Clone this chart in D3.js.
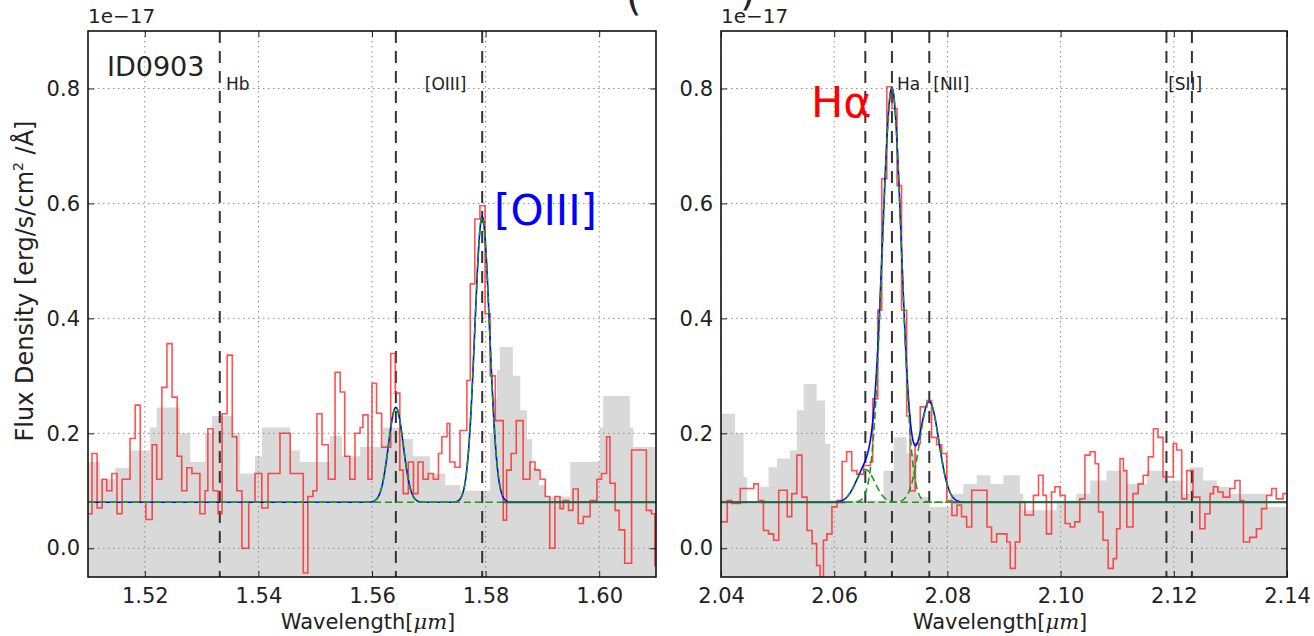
<!DOCTYPE html>
<html>
<head>
<meta charset="utf-8">
<script src="https://cdn.jsdelivr.net/npm/d3@7"></script>
<style>
  body { margin: 0; background: #fff; }
  svg text { font-family: "DejaVu Sans", sans-serif; fill: #222; }
</style>
</head>
<body>
<svg id="chart" width="1314" height="636"></svg>
<script>
"use strict";

// ---------- shared axis values ----------
const yDomain = [-0.05, 0.9];
const yTicks = [0.0, 0.2, 0.4, 0.6, 0.8];

// ---------- left panel: H band, Hb / [OIII] ----------
const xDomainL = [1.51, 1.61];
const xTicksL = [1.52, 1.54, 1.56, 1.58, 1.60];
// observed spectrum, bin left edges (um) and flux (1e-17)
const waveL = [1.5100,1.5107,1.5116,1.5125,1.5133,1.5142,1.5151,1.5160,1.5174,1.5183,1.5192,1.5202,1.5213,1.5221,1.5230,1.5239,1.5248,1.5257,1.5265,1.5274,1.5283,1.5297,1.5306,1.5311,1.5320,1.5329,1.5336,1.5345,1.5354,1.5362,1.5371,1.5383,1.5394,1.5406,1.5417,1.5438,1.5456,1.5479,1.5487,1.5496,1.5503,1.5512,1.5523,1.5535,1.5544,1.5552,1.5561,1.5570,1.5579,1.5584,1.5593,1.5600,1.5608,1.5617,1.5633,1.5641,1.5649,1.5655,1.5664,1.5673,1.5681,1.5690,1.5699,1.5708,1.5717,1.5723,1.5732,1.5737,1.5746,1.5755,1.5767,1.5773,1.5781,1.5790,1.5799,1.5808,1.5817,1.5831,1.5837,1.5845,1.5854,1.5866,1.5878,1.5887,1.5896,1.5905,1.5913,1.5922,1.5931,1.5937,1.5946,1.5954,1.5963,1.5972,1.5984,1.5996,1.6004,1.6013,1.6019,1.6028,1.6035,1.6045,1.6057,1.6083,1.6092,1.6098];
const fluxL = [0.06,0.165,0.07,0.12,0.10,0.13,0.06,0.12,0.191,0.249,0.08,0.05,0.18,0.12,0.28,0.356,0.263,0.16,0.10,0.14,0.13,0.06,0.10,0.208,0.10,0.06,0.234,0.336,0.194,0.10,0.0,0.08,0.13,0.07,0.13,0.20,0.13,-0.043,0.09,0.10,0.234,0.18,0.12,0.306,0.272,0.16,0.12,0.20,0.21,0.232,0.12,0.287,0.235,0.176,0.339,0.27,0.136,0.095,0.15,0.095,0.15,0.12,0.13,0.12,0.165,0.194,0.217,0.15,0.141,0.205,0.292,0.46,0.573,0.596,0.408,0.30,0.222,0.049,0.136,0.165,0.222,0.12,0.15,0.136,0.12,0.09,0.0,0.09,0.069,0.083,0.066,0.103,0.043,0.055,0.083,0.12,0.13,0.194,0.113,0.066,0.032,-0.026,0.171,0.066,0.06,-0.03];
// noise spectrum (grey fill)
const noiseWaveL = [1.5100,1.5121,1.5148,1.5174,1.5209,1.5221,1.5262,1.5280,1.5306,1.5318,1.5354,1.5368,1.5394,1.5406,1.5456,1.5473,1.5526,1.5547,1.5579,1.5619,1.5649,1.5672,1.5702,1.5729,1.5755,1.5808,1.5813,1.5820,1.5825,1.5848,1.5861,1.5873,1.5882,1.5894,1.5905,1.5949,1.6001,1.6007,1.6054,1.6060];
const noiseL = [0.15,0.12,0.14,0.17,0.21,0.245,0.20,0.15,0.20,0.23,0.20,0.13,0.16,0.21,0.17,0.15,0.195,0.16,0.176,0.21,0.19,0.16,0.13,0.11,0.10,0.20,0.26,0.31,0.35,0.30,0.24,0.19,0.14,0.11,0.09,0.15,0.21,0.265,0.21,0.176];
// line markers and fit
const lineWaveL = [1.5332, 1.5642, 1.5794];
const labelTextL = ['Hb', '[OIII]'];
const labelWaveL = [1.5343, 1.5693];
const fitCenterL = [1.5642, 1.5794];
const fitPeakL = [0.245, 0.577];
const fitSigmaL = 0.0013;
const contL = 0.08;
const compRangeL = [1.51, 1.583];   // dashed components drawn here
const contSolidL = [[1.583, 1.61]];

// ---------- right panel: K band, Ha / [NII] / [SII] ----------
const xDomainR = [2.04, 2.14];
const xTicksR = [2.04, 2.06, 2.08, 2.10, 2.12, 2.14];
const waveR = [2.0400,2.0411,2.0419,2.0434,2.0458,2.0466,2.0475,2.0484,2.0493,2.0502,2.0517,2.0525,2.0534,2.0543,2.0552,2.0561,2.0569,2.0575,2.0581,2.0587,2.0596,2.0605,2.0614,2.0622,2.0631,2.0640,2.0652,2.0664,2.0668,2.0677,2.0684,2.0693,2.0702,2.0711,2.0719,2.0728,2.0734,2.0743,2.0752,2.0764,2.0772,2.0781,2.0790,2.0799,2.0808,2.0817,2.0825,2.0834,2.0843,2.0870,2.0878,2.0887,2.0905,2.0911,2.0920,2.0928,2.0937,2.0952,2.0961,2.0969,2.0975,2.0984,2.0990,2.0999,2.1008,2.1017,2.1025,2.1034,2.1043,2.1052,2.1061,2.1067,2.1075,2.1084,2.1093,2.1099,2.1105,2.1111,2.1117,2.1128,2.1137,2.1146,2.1155,2.1164,2.1172,2.1181,2.1199,2.1205,2.1214,2.1223,2.1234,2.1246,2.1255,2.1264,2.1270,2.1278,2.1287,2.1299,2.1308,2.1317,2.1323,2.1334,2.1346,2.1355,2.1364,2.1373,2.1381,2.1393];
const fluxR = [0.046,0.083,0.078,0.104,0.112,0.083,0.031,0.025,0.014,0.101,0.055,0.095,0.162,0.089,0.031,0.008,-0.03,-0.06,0.014,0.025,0.072,0.083,0.151,0.168,0.135,0.129,0.144,0.15,0.26,0.414,0.643,0.803,0.765,0.631,0.414,0.23,0.10,0.182,0.246,0.257,0.193,0.18,0.165,0.083,0.057,0.075,0.055,0.037,0.101,0.037,0.011,0.025,0.011,-0.035,0.011,0.081,0.058,0.092,0.127,0.092,0.025,0.098,0.107,0.092,0.043,0.037,0.046,0.086,0.162,0.168,0.147,0.063,0.014,-0.035,-0.018,0.034,0.156,0.135,0.037,0.095,0.112,0.127,0.159,0.208,0.193,0.124,0.182,0.171,0.086,0.135,0.089,0.034,0.060,0.095,0.107,0.098,0.089,0.104,0.118,0.083,0.011,0.019,0.034,0.069,0.092,0.104,0.086,0.095];
const noiseWaveR = [2.0400,2.0425,2.0440,2.0446,2.0469,2.0484,2.0499,2.0522,2.0534,2.0546,2.0569,2.0584,2.0593,2.0687,2.0705,2.0728,2.0746,2.0769,2.0805,2.0828,2.0852,2.0876,2.0899,2.0928,2.0934,2.0993,2.1028,2.1052,2.1081,2.1117,2.1152,2.1187,2.1216,2.1228,2.1252,2.1276,2.1299,2.1364];
const noiseR = [0.234,0.20,0.124,0.078,0.107,0.141,0.156,0.17,0.24,0.286,0.257,0.182,0.083,0.135,0.193,0.165,0.089,0.072,0.095,0.112,0.127,0.112,0.127,0.095,0.066,0.083,0.095,0.118,0.135,0.112,0.135,0.118,0.095,0.141,0.118,0.107,0.095,0.072];
const lineWaveR = [2.0655, 2.0702, 2.0768, 2.1187, 2.1232];
const labelTextR = ['Ha', '[NII]', '[SII]'];
const labelWaveR = [2.0711, 2.0775, 2.1190];
const fitCenterR = [2.0655, 2.0702, 2.0768];
const fitPeakR = [0.137, 0.800, 0.255];
const fitSigmaR = 0.0017;
const contR = 0.08;
const compRangeR = [2.062, 2.081];
const contSolidR = [[2.04, 2.062], [2.081, 2.14]];

// ---------- layout ----------
const plotTop = 31, plotBottom = 577;
const svg = d3.select('#chart');
const defs = svg.append('defs');

function gauss(w, c, a, s) { return a * Math.exp(-0.5 * ((w - c) / s) ** 2); }

function drawPanel(p) {
    const x = d3.scaleLinear().domain(p.xDomain).range([p.left, p.right]);
    const y = d3.scaleLinear().domain(yDomain).range([plotBottom, plotTop]);

    defs.append('clipPath').attr('id', 'clip-' + p.id)
        .append('rect')
        .attr('x', p.left).attr('y', plotTop)
        .attr('width', p.right - p.left).attr('height', plotBottom - plotTop);

    const g = svg.append('g');
    const plot = g.append('g').attr('clip-path', `url(#clip-${p.id})`);

    // grey noise fill
    const noisePts = p.noiseWave.map((w, i) => [w, p.noise[i]]);
    noisePts.push([p.xDomain[1], p.noise[p.noise.length - 1]]);
    plot.append('path').datum(noisePts)
        .attr('fill', '#d9d9d9')
        .attr('d', d3.area().curve(d3.curveStepAfter)
            .x(d => x(d[0])).y0(y(yDomain[0])).y1(d => y(d[1])));

    // dotted grid
    plot.selectAll('line.gx').data(p.xTicks).enter().append('line')
        .attr('x1', d => x(d)).attr('x2', d => x(d))
        .attr('y1', plotTop).attr('y2', plotBottom)
        .attr('stroke', '#8a8a8a').attr('stroke-width', 1).attr('stroke-dasharray', '1.5,3.5');
    plot.selectAll('line.gy').data(yTicks).enter().append('line')
        .attr('x1', p.left).attr('x2', p.right)
        .attr('y1', d => y(d)).attr('y2', d => y(d))
        .attr('stroke', '#8a8a8a').attr('stroke-width', 1).attr('stroke-dasharray', '1.5,3.5');

    // dashed line markers
    plot.selectAll('line.mk').data(p.lineWave).enter().append('line')
        .attr('x1', d => x(d)).attr('x2', d => x(d))
        .attr('y1', plotTop).attr('y2', plotBottom)
        .attr('stroke', '#333').attr('stroke-width', 2).attr('stroke-dasharray', '12,8');

    // observed spectrum
    const specPts = p.wave.map((w, i) => [w, p.flux[i]]);
    specPts.push([p.xDomain[1], p.flux[p.flux.length - 1]]);
    plot.append('path').datum(specPts)
        .attr('fill', 'none').attr('stroke', '#ff1a1a').attr('stroke-opacity', 0.75)
        .attr('stroke-width', 1.6)
        .attr('d', d3.line().curve(d3.curveStepAfter).x(d => x(d[0])).y(d => y(d[1])));

    // total fit
    const grid = d3.range(p.xDomain[0], p.xDomain[1] + 1e-9, 0.0001);
    const total = grid.map(w => [w, p.cont + d3.sum(p.fitCenter, (c, i) =>
        gauss(w, c, p.fitPeak[i] - p.cont, p.fitSigma))]);
    const line = d3.line().x(d => x(d[0])).y(d => y(d[1]));
    plot.append('path').datum(total)
        .attr('fill', 'none').attr('stroke', '#0000ff').attr('stroke-width', 1.6)
        .attr('d', line);

    // individual components
    const compGrid = grid.filter(w => w >= p.compRange[0] && w <= p.compRange[1]);
    p.fitCenter.forEach((c, i) => {
        const comp = compGrid.map(w => [w, p.cont + gauss(w, c, p.fitPeak[i] - p.cont, p.fitSigma)]);
        plot.append('path').datum(comp)
            .attr('fill', 'none').attr('stroke', '#1a9a1a').attr('stroke-width', 1.6)
            .attr('stroke-dasharray', '7,4')
            .attr('d', line);
    });
    p.contSolid.forEach(r => {
        plot.append('path').datum(r.map(w => [w, p.cont]))
            .attr('fill', 'none').attr('stroke', '#1b6b3a').attr('stroke-width', 2)
            .attr('d', line);
    });

    // marker labels
    g.selectAll('text.lbl').data(p.labelText).enter().append('text')
        .attr('x', (d, i) => x(p.labelWave[i])).attr('y', 90)
        .attr('font-size', 17).text(d => d);

    // frame and inward ticks
    g.append('g').attr('transform', `translate(0,${plotBottom})`)
        .call(d3.axisTop(x).tickValues(p.xTicks).tickSize(6).tickFormat(''));
    g.append('g').attr('transform', `translate(0,${plotTop})`)
        .call(d3.axisBottom(x).tickValues(p.xTicks).tickSize(6).tickFormat(''));
    g.append('g').attr('transform', `translate(${p.left},0)`)
        .call(d3.axisRight(y).tickValues(yTicks).tickSize(6).tickFormat(''));
    g.append('g').attr('transform', `translate(${p.right},0)`)
        .call(d3.axisLeft(y).tickValues(yTicks).tickSize(6).tickFormat(''));
    g.selectAll('.domain').remove();
    g.selectAll('.tick line').attr('stroke', '#222').attr('stroke-width', 1);

    // tick labels
    const xl = g.append('g').attr('transform', `translate(0,${plotBottom})`)
        .call(d3.axisBottom(x).tickValues(p.xTicks).tickSize(0).tickPadding(11).tickFormat(d3.format('.2f')));
    const yl = g.append('g').attr('transform', `translate(${p.left},0)`)
        .call(d3.axisLeft(y).tickValues(yTicks).tickSize(0).tickPadding(8).tickFormat(d3.format('.1f')));
    [xl, yl].forEach(a => {
        a.select('.domain').remove();
        a.selectAll('text').attr('font-size', 21).attr('font-family', '"DejaVu Sans", sans-serif').attr('fill', '#222');
    });

    g.append('rect')
        .attr('x', p.left).attr('y', plotTop)
        .attr('width', p.right - p.left).attr('height', plotBottom - plotTop)
        .attr('fill', 'none').attr('stroke', '#111').attr('stroke-width', 1.6);

    // offset text
    g.append('text').attr('x', p.left).attr('y', 23).attr('font-size', 20).text('1e\u221217');

    // x label
    const xt = g.append('text').attr('x', (p.left + p.right) / 2 - 4).attr('y', 629)
        .attr('text-anchor', 'middle').attr('font-size', 21);
    xt.append('tspan').text('Wavelength[');
    xt.append('tspan').attr('font-family', '"DejaVu Serif", serif').attr('font-style', 'italic').text('\u03bcm');
    xt.append('tspan').text(']');

    return { x, y, g };
}

const panelL = drawPanel({
    id: 'L', left: 88, right: 656, xDomain: xDomainL, xTicks: xTicksL,
    wave: waveL, flux: fluxL, noiseWave: noiseWaveL, noise: noiseL,
    lineWave: lineWaveL, labelText: labelTextL, labelWave: labelWaveL,
    fitCenter: fitCenterL, fitPeak: fitPeakL, fitSigma: fitSigmaL, cont: contL,
    compRange: compRangeL, contSolid: contSolidL
});
const panelR = drawPanel({
    id: 'R', left: 721, right: 1287, xDomain: xDomainR, xTicks: xTicksR,
    wave: waveR, flux: fluxR, noiseWave: noiseWaveR, noise: noiseR,
    lineWave: lineWaveR, labelText: labelTextR, labelWave: labelWaveR,
    fitCenter: fitCenterR, fitPeak: fitPeakR, fitSigma: fitSigmaR, cont: contR,
    compRange: compRangeR, contSolid: contSolidR
});

// y label
const yt = svg.append('text')
    .attr('transform', 'translate(33,281) rotate(-90)')
    .attr('text-anchor', 'middle').attr('font-size', 24);
yt.append('tspan').text('Flux Density [erg/s/cm');
yt.append('tspan').attr('font-size', 14).attr('dy', -10).text('2');
yt.append('tspan').attr('dy', 10).text(' /\u00c5]');

// annotations
svg.append('text').attr('x', 107).attr('y', 76).attr('font-size', 27).text('ID0903');
svg.append('text').attr('x', 494).attr('y', 225).attr('font-size', 42)
    .style('fill', '#0000ff').text('[OIII]');
svg.append('text').attr('x', 811).attr('y', 117).attr('font-size', 43)
    .style('fill', '#ff0000').text('H\u03b1');

// clipped figure title glyphs at the top edge
svg.append('text').attr('x', 626).attr('y', 10).attr('font-size', 40).text('(');
svg.append('text').attr('x', 740).attr('y', 5).attr('font-size', 40).text(')');
</script>
</body>
</html>
